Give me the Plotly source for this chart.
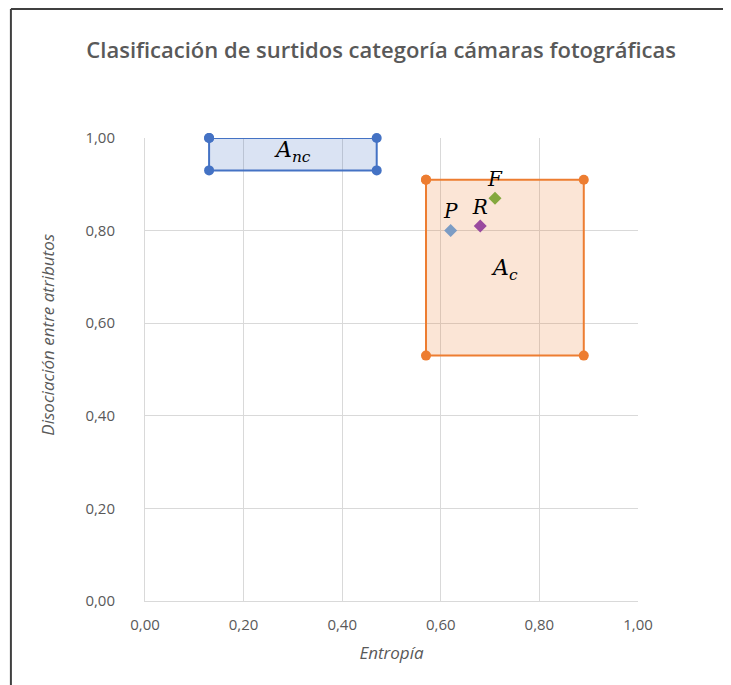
import plotly.graph_objects as go

# Region rectangles (closed paths)
anc_x = [0.13, 0.47, 0.47, 0.13, 0.13]
anc_y = [1.00, 1.00, 0.93, 0.93, 1.00]
ac_x = [0.57, 0.89, 0.89, 0.57, 0.57]
ac_y = [0.91, 0.91, 0.53, 0.53, 0.91]

# Assortment points
pt_names = ["P", "R", "F"]
pt_x = [0.62, 0.68, 0.71]
pt_y = [0.80, 0.81, 0.87]
pt_colors = ["#7C9CC4", "#9A4A9F", "#84A83E"]

# Region labels
region_labels = ["<i>A</i><sub><i>nc</i></sub>", "<i>A</i><sub><i>c</i></sub>"]
region_lx = [0.30, 0.73]
region_ly = [0.97, 0.715]

tick_vals = [0, 0.2, 0.4, 0.6, 0.8, 1.0]

fig = go.Figure()
fig.add_trace(go.Scatter(x=anc_x, y=anc_y, mode="lines+markers", fill="toself",
                         fillcolor="rgba(68,114,196,0.2)", cliponaxis=False,
                         line=dict(color="#4472C4", width=2),
                         marker=dict(color="#4472C4", size=10), hoverinfo="skip"))
fig.add_trace(go.Scatter(x=ac_x, y=ac_y, mode="lines+markers", fill="toself",
                         fillcolor="rgba(237,125,49,0.2)", cliponaxis=False,
                         line=dict(color="#ED7D31", width=2),
                         marker=dict(color="#ED7D31", size=10), hoverinfo="skip"))
for n, x, y, c in zip(pt_names, pt_x, pt_y, pt_colors):
    fig.add_trace(go.Scatter(x=[x], y=[y], mode="markers+text", cliponaxis=False,
                             text=[f"<i>{n}</i>"], textposition="top center",
                             textfont=dict(family="DejaVu Serif", size=20, color="#000000"),
                             marker=dict(symbol="diamond", color=c, size=10)))

for t, x, y in zip(region_labels, region_lx, region_ly):
    fig.add_annotation(x=x, y=y, text=t, showarrow=False,
                       font=dict(family="DejaVu Serif", size=22, color="#000000"))

# y-axis title (placed as in the reference, slightly above centre)
fig.add_annotation(xref="paper", yref="paper", x=-0.197, y=0.575, textangle=-90,
                   xanchor="center", yanchor="middle",
                   text="<i>Disociación entre atributos</i>", showarrow=False,
                   font=dict(family="Open Sans", size=17, color="#595959"))

# outer chart frame (left and top edges)
fig.add_shape(type="line", xref="paper", yref="paper", x0=-0.272, x1=1.3, y0=1.2786, y1=1.2786,
              line=dict(color="#404040", width=2))
fig.add_shape(type="line", xref="paper", yref="paper", x0=-0.272, x1=-0.272, y0=1.2786, y1=-0.3,
              line=dict(color="#404040", width=2))

axis_common = dict(range=[0, 1], tickvals=tick_vals, tickformat=".2f",
                   showgrid=True, gridcolor="#D9D9D9", gridwidth=1,
                   showline=True, linecolor="#D9D9D9", linewidth=1,
                   zeroline=False, ticks="",
                   tickfont=dict(family="Open Sans", size=15, color="#595959"))

fig.update_layout(
    width=731, height=685,
    margin=dict(l=137, r=101, t=130, b=92),
    paper_bgcolor="white", plot_bgcolor="white",
    separators=",.",
    showlegend=False,
    title=dict(text="Clasificación de surtidos categoría cámaras fotográficas",
               x=0.5105, xanchor="center", y=0.938, yanchor="middle",
               font=dict(family="Open Sans", size=22, weight=600, color="#595959")),
    xaxis=dict(**axis_common, ticklabelstandoff=10,
               title=dict(text="<i>Entropía</i>", standoff=14,
                          font=dict(family="Open Sans", size=17, color="#595959"))),
    yaxis=dict(**axis_common, ticklabelstandoff=26),
)

fig.write_html("out.html")
